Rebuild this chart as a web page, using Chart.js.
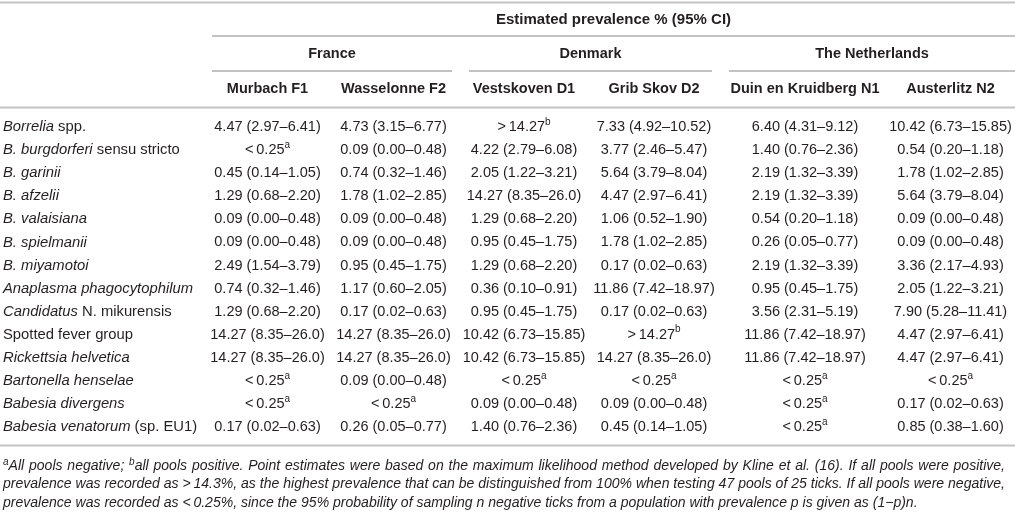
<!DOCTYPE html>
<html>
<head>
<meta charset="utf-8">
<title>Estimated prevalence % (95% CI)</title>
<script src="https://cdn.jsdelivr.net/npm/chart.js@4.4.1/dist/chart.umd.min.js"></script>
<style>
  html, body { margin: 0; padding: 0; background: #fff; }
  #wrap { width: 1015px; height: 519px; }
</style>
</head>
<body>
<div id="wrap"><canvas id="tbl" width="1015" height="519"></canvas></div>
<script>
// ================= DATA =================
const countries = ["France", "Denmark", "The Netherlands"];
const sites = ["Murbach F1", "Wasselonne F2", "Vestskoven D1", "Grib Skov D2", "Duin en Kruidberg N1", "Austerlitz N2"];
const siteCountry = [0, 0, 1, 1, 2, 2];

const pathogens = [
    "Borrelia spp.", "B. burgdorferi sensu stricto", "B. garinii", "B. afzelii",
    "B. valaisiana", "B. spielmanii", "B. miyamotoi", "Anaplasma phagocytophilum",
    "Candidatus N. mikurensis", "Spotted fever group", "Rickettsia helvetica",
    "Bartonella henselae", "Babesia divergens", "Babesia venatorum (sp. EU1)"
];
// part of each name set in italics
const italicPart = [
    "Borrelia", "B. burgdorferi", "B. garinii", "B. afzelii",
    "B. valaisiana", "B. spielmanii", "B. miyamotoi", "Anaplasma phagocytophilum",
    "Candidatus", "", "Rickettsia helvetica",
    "Bartonella henselae", "Babesia divergens", "Babesia venatorum"
];

// "<0.25" = all pools negative (a), ">14.27" = all pools positive (b)
const murbachF1 = ["4.47 (2.97–6.41)", "<0.25", "0.45 (0.14–1.05)", "1.29 (0.68–2.20)", "0.09 (0.00–0.48)", "0.09 (0.00–0.48)", "2.49 (1.54–3.79)", "0.74 (0.32–1.46)", "1.29 (0.68–2.20)", "14.27 (8.35–26.0)", "14.27 (8.35–26.0)", "<0.25", "<0.25", "0.17 (0.02–0.63)"];
const wasselonneF2 = ["4.73 (3.15–6.77)", "0.09 (0.00–0.48)", "0.74 (0.32–1.46)", "1.78 (1.02–2.85)", "0.09 (0.00–0.48)", "0.09 (0.00–0.48)", "0.95 (0.45–1.75)", "1.17 (0.60–2.05)", "0.17 (0.02–0.63)", "14.27 (8.35–26.0)", "14.27 (8.35–26.0)", "0.09 (0.00–0.48)", "<0.25", "0.26 (0.05–0.77)"];
const vestskovenD1 = [">14.27", "4.22 (2.79–6.08)", "2.05 (1.22–3.21)", "14.27 (8.35–26.0)", "1.29 (0.68–2.20)", "0.95 (0.45–1.75)", "1.29 (0.68–2.20)", "0.36 (0.10–0.91)", "0.95 (0.45–1.75)", "10.42 (6.73–15.85)", "10.42 (6.73–15.85)", "<0.25", "0.09 (0.00–0.48)", "1.40 (0.76–2.36)"];
const gribSkovD2 = ["7.33 (4.92–10.52)", "3.77 (2.46–5.47)", "5.64 (3.79–8.04)", "4.47 (2.97–6.41)", "1.06 (0.52–1.90)", "1.78 (1.02–2.85)", "0.17 (0.02–0.63)", "11.86 (7.42–18.97)", "0.17 (0.02–0.63)", ">14.27", "14.27 (8.35–26.0)", "<0.25", "0.09 (0.00–0.48)", "0.45 (0.14–1.05)"];
const duinKruidbergN1 = ["6.40 (4.31–9.12)", "1.40 (0.76–2.36)", "2.19 (1.32–3.39)", "2.19 (1.32–3.39)", "0.54 (0.20–1.18)", "0.26 (0.05–0.77)", "2.19 (1.32–3.39)", "0.95 (0.45–1.75)", "3.56 (2.31–5.19)", "11.86 (7.42–18.97)", "11.86 (7.42–18.97)", "<0.25", "<0.25", "<0.25"];
const austerlitzN2 = ["10.42 (6.73–15.85)", "0.54 (0.20–1.18)", "1.78 (1.02–2.85)", "5.64 (3.79–8.04)", "0.09 (0.00–0.48)", "0.09 (0.00–0.48)", "3.36 (2.17–4.93)", "2.05 (1.22–3.21)", "7.90 (5.28–11.41)", "4.47 (2.97–6.41)", "4.47 (2.97–6.41)", "<0.25", "0.17 (0.02–0.63)", "0.85 (0.38–1.60)"];
const siteValues = [murbachF1, wasselonneF2, vestskovenD1, gribSkovD2, duinKruidbergN1, austerlitzN2];

const headerTitle = "Estimated prevalence % (95% CI)";
const footnote = [
    [{ t: "a", sup: 1 }, { t: "All pools negative; " }, { t: "b", sup: 1 }, { t: "all pools positive. Point estimates were based on the maximum likelihood method developed by Kline et al. (16). If all pools were positive," }],
    [{ t: "prevalence was recorded as >\u200914.3%, as the highest prevalence that can be distinguished from 100% when testing 47 pools of 25 ticks. If all pools were negative," }],
    [{ t: "prevalence was recorded as <\u20090.25%, since the 95% probability of sampling n negative ticks from a population with prevalence p is given as (1\u2212p)n." }]
];

// ================= LAYOUT / STYLE =================
const FAMILY = "'Liberation Sans', Arial, Helvetica, sans-serif";
const TEXT = "#231f20";
const RULE = "#c2c2c2";
const LABEL_COL = 212;                       // width of the pathogen column
const colWidths = [111, 141, 120, 140, 162, 129];  // table column widths
const ROW_TOP = 115.5, ROW_BOTTOM = 80.4;    // padding around the body rows

function colCenter(c) {
    let s = 0;
    for (let i = 0; i < c; i++) s += colWidths[i];
    return s + colWidths[c] / 2;
}
const tableWidth = colWidths.reduce((a, b) => a + b, 0);

// ================= TEXT HELPERS =================
function measureParts(ctx, parts) {
    let w = 0;
    parts.forEach(p => { ctx.font = p.f; p.w = ctx.measureText(p.t).width; w += p.w; });
    return w;
}

function drawParts(ctx, parts, x, y, align) {
    const w = measureParts(ctx, parts);
    let cx = align === "center" ? x - w / 2 : x;
    ctx.textAlign = "left";
    parts.forEach(p => {
        ctx.font = p.f;
        ctx.fillText(p.t, cx, y + (p.dy || 0));
        cx += p.w;
    });
}

function cellParts(v, size) {
    const body = size + "px " + FAMILY;
    const sup = Math.round(size * 0.68) + "px " + FAMILY;
    if (v[0] === "<" || v[0] === ">") {
        return [
            { t: v[0] + "\u2009", f: body },
            { t: v.slice(1), f: body },
            { t: v[0] === "<" ? "a" : "b", f: sup, dy: -5 }
        ];
    }
    return [{ t: v, f: body }];
}

function footLine(ctx, segs, x, y, size, justifyTo) {
    const f = "italic " + size + "px " + FAMILY;
    const fs = "italic " + Math.round(size * 0.7) + "px " + FAMILY;
    const toks = [];
    segs.forEach(s => {
        s.t.split(/( )/).forEach(p => {
            if (p) toks.push({ t: p, f: s.sup ? fs : f, dy: s.sup ? -4 : 0, sp: p === " " });
        });
    });
    let w = 0, nsp = 0;
    toks.forEach(k => { ctx.font = k.f; k.w = ctx.measureText(k.t).width; w += k.w; if (k.sp) nsp++; });
    if (!justifyTo) return w;
    const extra = justifyTo > 0 ? (justifyTo - w) / nsp : 0;
    let cx = x;
    ctx.textAlign = "left";
    toks.forEach(k => {
        ctx.font = k.f;
        if (!k.sp) ctx.fillText(k.t, cx, y + k.dy);
        cx += k.w + (k.sp ? extra : 0);
    });
    return w;
}

function hLine(ctx, x1, x2, y) {
    ctx.beginPath();
    ctx.moveTo(x1, y);
    ctx.lineTo(x2, y);
    ctx.stroke();
}

// ================= TABLE PLUGIN =================
const tablePlugin = {
    id: "tableText",
    afterDatasetsDraw(chart) {
        const ctx = chart.ctx;
        const area = chart.chartArea;
        const xs = chart.scales.x;
        const ys = chart.scales.y;
        const W = chart.width;
        ctx.save();
        ctx.fillStyle = TEXT;
        ctx.textBaseline = "middle";
        ctx.strokeStyle = RULE;
        ctx.lineWidth = 2;

        // rules
        hLine(ctx, 0, W, 2.5);
        hLine(ctx, area.left, W, 36);
        hLine(ctx, 0, W, 107.5);
        hLine(ctx, 0, W, area.bottom + 7);

        // title over all site columns
        ctx.font = "bold 15px " + FAMILY;
        ctx.textAlign = "center";
        ctx.fillText(headerTitle, (area.left + W) / 2, 20);

        // countries with their underline
        countries.forEach((name, g) => {
            const cols = siteCountry.map((k, i) => k === g ? i : -1).filter(i => i >= 0);
            const first = cols[0], last = cols[cols.length - 1];
            const left = xs.getPixelForValue(colCenter(first) - colWidths[first] / 2) + (g > 0 ? 5 : 0);
            const right = g < countries.length - 1
                ? xs.getPixelForValue(colCenter(last) + colWidths[last] / 2) - 12
                : W;
            hLine(ctx, left, right, 71);
            ctx.font = "bold 14.5px " + FAMILY;
            ctx.textAlign = "center";
            ctx.fillText(name, (left + right) / 2, 54);
        });

        // site headers
        sites.forEach((s, c) => {
            ctx.font = "bold 14.5px " + FAMILY;
            ctx.textAlign = "center";
            ctx.fillText(s, xs.getPixelForValue(colCenter(c)), 89);
        });

        // row labels
        pathogens.forEach((p, r) => {
            const y = ys.getPixelForValue(r);
            const it = italicPart[r];
            const parts = [];
            if (it) parts.push({ t: it, f: "italic 14.8px " + FAMILY });
            if (p.length > it.length) parts.push({ t: p.slice(it.length), f: "14.8px " + FAMILY });
            drawParts(ctx, parts, 3, y, "left");
        });

        // cells, placed at each dataset point
        chart.data.datasets.forEach((ds, c) => {
            const meta = chart.getDatasetMeta(c);
            meta.data.forEach((pt, r) => {
                drawParts(ctx, cellParts(ds.data[r].v, 14.5), pt.x, pt.y, "center");
            });
        });

        // footnote, justified like the source
        const target = W - 10;
        let size = 14.2;
        const natural = Math.max(footLine(ctx, footnote[0], 0, 0, size, 0), footLine(ctx, footnote[1], 0, 0, size, 0));
        if (natural > target) size = size * target / natural - 0.05;
        const fy = [466, 484.5, 503];
        footnote.forEach((segs, i) => {
            footLine(ctx, segs, 3, fy[i], size, i < footnote.length - 1 ? target - 3 : -1);
        });

        ctx.restore();
    }
};

// ================= CREATE CHART =================
new Chart(document.getElementById("tbl"), {
    type: "scatter",
    data: {
        datasets: sites.map((s, c) => ({
            label: s,
            data: pathogens.map((p, r) => ({ x: colCenter(c), y: p, v: siteValues[c][r] })),
            pointRadius: 0,
            pointHoverRadius: 0,
            showLine: false
        }))
    },
    options: {
        responsive: false,
        animation: false,
        events: [],
        layout: { padding: { left: LABEL_COL, right: 0, top: ROW_TOP, bottom: ROW_BOTTOM } },
        plugins: { legend: { display: false }, tooltip: { enabled: false } },
        scales: {
            x: { type: "linear", display: false, min: 0, max: tableWidth },
            y: { type: "category", labels: pathogens, display: false, offset: true }
        }
    },
    plugins: [tablePlugin]
});
</script>
</body>
</html>
